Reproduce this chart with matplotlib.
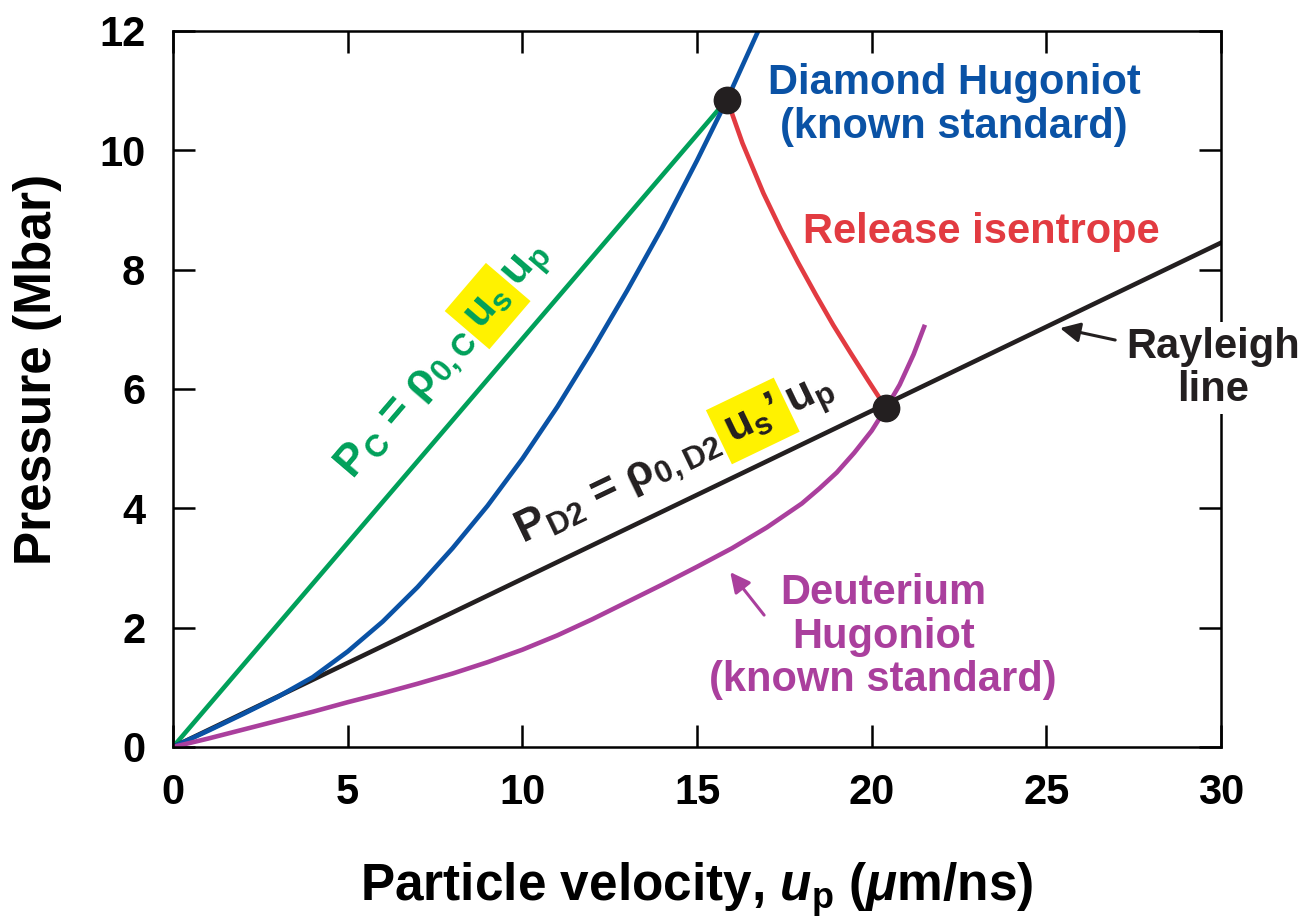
import numpy as np
import matplotlib
matplotlib.use("Agg")
import matplotlib.pyplot as plt
from matplotlib.transforms import IdentityTransform

plt.rcParams['font.family'] = ['Liberation Sans', 'DejaVu Sans']
plt.rcParams['font.weight'] = 'bold'
plt.rcParams['axes.labelweight'] = 'bold'
plt.rcParams['mathtext.fontset'] = 'custom'
plt.rcParams['mathtext.rm'] = 'Liberation Sans:bold'
plt.rcParams['mathtext.it'] = 'Liberation Sans:italic:bold'
plt.rcParams['mathtext.bf'] = 'Liberation Sans:bold'

# values: up in um/ns, P in Mbar
up_carbon = [0, 15.86]
p_carbon = [0, 10.85]

up_diamond = [0, 1, 2, 3, 4, 5, 6, 7, 8, 9, 10, 11, 12, 13, 14, 15, 15.86, 16.75]
p_diamond = [0, 0.27, 0.55, 0.84, 1.17, 1.6, 2.1, 2.68, 3.33, 4.04, 4.83, 5.7, 6.65,
             7.65, 8.7, 9.83, 10.85, 12.0]

up_rayleigh = [0, 30]
p_rayleigh = [0, 8.45]

up_d2 = [0, 1, 2, 3, 4, 5, 6, 7, 8, 9, 10, 11, 12, 13, 14, 15, 16, 17, 18, 18.5, 19,
         19.5, 20, 20.41, 20.8, 21.2, 21.5]
p_d2 = [0, 0.14, 0.29, 0.44, 0.59, 0.75, 0.9, 1.06, 1.23, 1.42, 1.63, 1.87, 2.14, 2.43,
        2.72, 3.02, 3.33, 3.68, 4.08, 4.33, 4.6, 4.93, 5.3, 5.68, 6.07, 6.58, 7.04]

up_release = [15.86, 16.3, 16.9, 17.4, 17.9, 18.4, 18.9, 19.4, 19.9, 20.41]
p_release = [10.85, 10.12, 9.28, 8.67, 8.11, 7.58, 7.07, 6.6, 6.14, 5.68]

up_points = [15.86, 20.41]
p_points = [10.85, 5.68]

xticks = [0, 5, 10, 15, 20, 25, 30]
yticks = [0, 2, 4, 6, 8, 10, 12]

green = '#00A05A'
blue = '#0A52A5'
red = '#E23B41'
purple = '#AA3F9D'
black = '#231F20'
yellow = '#FFF200'

fig = plt.figure(figsize=(13.09, 9.24), dpi=100)
ax = fig.add_axes([0.1322, 0.1916, 0.8006, 0.7749])

ax.plot(up_carbon, p_carbon, color=green, lw=3.3)
ax.plot(up_rayleigh, p_rayleigh, color=black, lw=3.3)
ax.plot(up_diamond, p_diamond, color=blue, lw=3.3)
ax.plot(up_d2, p_d2, color=purple, lw=3.3)
ax.plot(up_release, p_release, color=red, lw=3.3)
ax.plot(up_points, p_points, 'o', color=black, ms=19, zorder=5)

ax.set_xlim(0, 30)
ax.set_ylim(0, 12)
ax.set_xticks(xticks)
ax.set_yticks(yticks)
ax.tick_params(direction='in', length=16, width=1.8, top=True, right=True, labelsize=30)
ax.tick_params(axis='x', pad=19)
ax.tick_params(axis='y', pad=20)
for sp in ax.spines.values():
    sp.set_linewidth(1.8)

ax.set_xlabel(r'Particle velocity, $u_\mathrm{p}$ ($\mu$m/ns)', fontsize=37, va='top')
ax.xaxis.set_label_coords(0.5, -0.158)
ax.set_ylabel('Pressure (Mbar)', fontsize=37)
ax.yaxis.set_label_coords(-0.106, 0.527)

# curve labels
ax.text(22.36, 10.76, 'Diamond Hugoniot\n(known standard)', color=blue, fontsize=30,
        ha='center', va='center', linespacing=1.12, clip_on=False)
ax.text(23.13, 8.63, 'Release isentrope', color=red, fontsize=30, ha='center', va='center')
ax.text(29.77, 6.35, 'Rayleigh\nline', color=black, fontsize=30, ha='center', va='center',
        linespacing=1.1, clip_on=False, zorder=6,
        bbox=dict(boxstyle='square,pad=0.1', fc='white', ec='none'))
ax.text(20.33, 1.85, 'Deuterium\nHugoniot\n(known standard)', color=purple, fontsize=30,
        ha='center', va='center', linespacing=1.12)

ax.annotate('', xy=(25.39, 7.02), xytext=(26.97, 6.82),
            arrowprops=dict(arrowstyle='-|>', color=black, lw=2.2, mutation_scale=30,
                            shrinkA=0, shrinkB=0))
ax.annotate('', xy=(15.95, 2.93), xytext=(16.92, 2.21),
            arrowprops=dict(arrowstyle='-|>', color=purple, lw=2.2, mutation_scale=30,
                            shrinkA=0, shrinkB=0))


def line_angle(x, y):
    (x0, y0), (x1, y1) = ax.transData.transform([(x[0], y[0]), (x[-1], y[-1])])
    return np.degrees(np.arctan2(y1 - y0, x1 - x0))


def along_line(x, y, pieces, angle, color, size=32, gap=10):
    # lay text pieces one after another along a rotated baseline
    rend = fig.canvas.get_renderer()
    x0, y0 = ax.transData.transform((x, y))
    c, s = np.cos(np.radians(angle)), np.sin(np.radians(angle))
    dist = 0
    for txt, hl in pieces:
        t = fig.text(x0 + dist * c, y0 + dist * s, txt, transform=IdentityTransform(),
                     color=color, fontsize=size, ha='left', va='baseline')
        w = t.get_window_extent(rend).width
        t.set_rotation(angle)
        t.set_rotation_mode('anchor')
        if hl:
            t.set_bbox(dict(boxstyle='square,pad=0.2', fc=yellow, ec='none'))
            t.set_zorder(2.9)
        dist += w + gap


along_line(5.15, 4.46,
           [(r'P$_\mathrm{C}$ = ρ$_\mathrm{0,C}$', False),
            (r'u$_\mathrm{s}$', True),
            (r'u$_\mathrm{p}$', False)],
           line_angle(up_carbon, p_carbon), green)

along_line(10.02, 3.39,
           [(r'P$_\mathrm{D2}$ = ρ$_\mathrm{0,D2}$', False),
            (r'u$_\mathrm{s}$’', True),
            (r'u$_\mathrm{p}$', False)],
           line_angle(up_rayleigh, p_rayleigh), black)

fig.savefig('out.png', dpi=100)
